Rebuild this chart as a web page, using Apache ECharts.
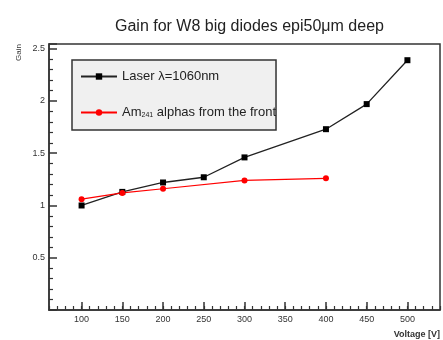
<!DOCTYPE html>
<html><head><meta charset="utf-8">
<script src="https://cdn.jsdelivr.net/npm/echarts@6/dist/echarts.min.js"></script>
<style>html,body{margin:0;padding:0;background:#fff}#c{width:443px;height:340px}</style>
</head><body><div id="c"></div>
<script>
const laserX = [100, 150, 200, 250, 300, 400, 450, 500];
const laserY = [1.00, 1.13, 1.22, 1.27, 1.46, 1.73, 1.97, 2.39];
const amX = [100, 150, 200, 300, 400];
const amY = [1.06, 1.12, 1.16, 1.24, 1.26];
const xMajorTicks = [100, 150, 200, 250, 300, 350, 400, 450, 500];

const chart = echarts.init(document.getElementById('c'), null, {renderer: 'canvas'});
const font = 'Liberation Sans, Arial, sans-serif';
chart.setOption({
  animation: false,
  title: {text: 'Gain for W8 big diodes epi50\u03bcm deep', left: 110, top: 14,
    textStyle: {fontFamily: font, fontSize: 16, fontWeight: 'normal', color: '#222'}},
  grid: {left: 49, top: 44, right: 2, bottom: 30, show: true, borderColor: '#333', borderWidth: 1.5, backgroundColor: 'transparent'},
  legend: {
    orient: 'vertical', left: 72, top: 60,
    backgroundColor: '#f0f0f0', borderColor: '#333', borderWidth: 1.5,
    padding: [10, 0, 11, 8], itemGap: 23, itemWidth: 36, itemHeight: 8,
    textStyle: {fontFamily: font, fontSize: 13, color: '#222',
      rich: {sub: {fontSize: 7, verticalAlign: 'bottom', padding: [6, 0, 0, 0], fontFamily: font, color: '#222'}}},
    formatter: function (n) { return n === 'Am241' ? 'Am{sub|241} alphas from the front' : n; },
    data: ['Laser \u03bb=1060nm', 'Am241']
  },
  xAxis: [{
    type: 'value', min: 60, max: 540, position: 'bottom',
    name: 'Voltage [V]', nameLocation: 'end', nameGap: 0,
    nameTextStyle: {fontFamily: font, fontSize: 9, fontWeight: 'bold', color: '#333', align: 'right', verticalAlign: 'top', padding: [20, 0, 0, 0]},
    axisLine: {show: true, lineStyle: {color: '#333', width: 1.5}},
    axisTick: {show: true, inside: true, length: 8, customValues: xMajorTicks, lineStyle: {color: '#333', width: 1.5}},
    axisLabel: {customValues: xMajorTicks, fontFamily: font, fontSize: 9, color: '#333', margin: 5},
    splitLine: {show: false}
  }, {
    type: 'value', min: 60, max: 540, interval: 10, position: 'bottom',
    axisLine: {show: false},
    axisTick: {show: true, inside: true, length: 4, lineStyle: {color: '#333', width: 1.2}},
    axisLabel: {show: false}, splitLine: {show: false}
  }],
  yAxis: {
    type: 'value', min: 0, max: 2.545, interval: 0.5,
    name: 'Gain', nameLocation: 'end', nameRotate: 90, nameGap: 0,
    nameTextStyle: {fontFamily: font, fontSize: 8, color: '#333', align: 'right', verticalAlign: 'bottom', padding: [0, 0, 26, 0]},
    axisLine: {show: true, lineStyle: {color: '#333', width: 1.5}},
    axisTick: {show: true, inside: true, length: 8, lineStyle: {color: '#333', width: 1.5}},
    minorTick: {show: true, splitNumber: 5, length: 4, lineStyle: {color: '#333', width: 1.2}},
    axisLabel: {showMinLabel: false, showMaxLabel: false, fontFamily: font, fontSize: 9, color: '#333', margin: 4},
    splitLine: {show: false}, minorSplitLine: {show: false}
  },
  series: [{
    name: 'Laser \u03bb=1060nm', type: 'line',
    data: laserX.map((x, i) => [x, laserY[i]]),
    symbol: 'rect', symbolSize: 6,
    lineStyle: {color: '#222', width: 1.3}, itemStyle: {color: '#000'}
  }, {
    name: 'Am241', type: 'line',
    data: amX.map((x, i) => [x, amY[i]]),
    symbol: 'circle', symbolSize: 6,
    lineStyle: {color: '#ff0000', width: 1.2}, itemStyle: {color: '#ff0000'}
  }]
});
</script></body></html>
